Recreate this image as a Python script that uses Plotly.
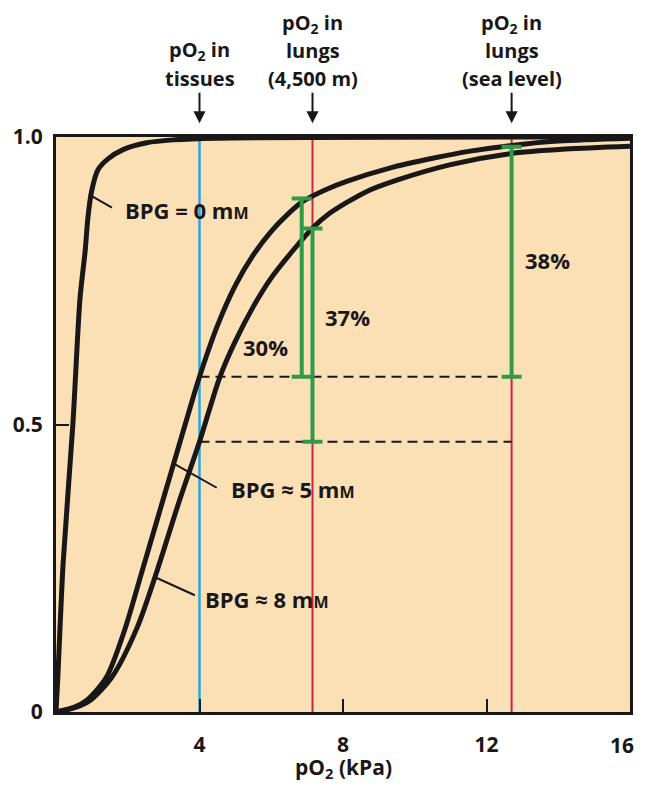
import plotly.graph_objects as go

# oxygen binding curves (pO2 in kPa, fractional saturation)
bpg0_x = [0, 0.05, 0.2, 0.47, 0.67, 0.81, 0.89, 0.99, 1.17, 1.45, 1.87, 2.53, 3.26, 4.5, 16]
bpg0_y = [0, 0.06, 0.26, 0.50, 0.72, 0.80, 0.86, 0.905, 0.943, 0.962, 0.978, 0.99, 0.995, 0.998, 1.0]

bpg5_x = [0, 0.5, 0.85, 1.4, 1.9, 2.4, 2.8, 3.2, 3.6, 4.0, 4.5, 5.0, 5.5, 6.0, 6.5, 6.88,
          7.5, 8.1, 9.3, 10.5, 11.5, 12.65, 14, 16]
bpg5_y = [0, 0.008, 0.02, 0.06, 0.14, 0.245, 0.33, 0.415, 0.5, 0.583, 0.672, 0.742, 0.795,
          0.836, 0.868, 0.888, 0.908, 0.923, 0.946, 0.963, 0.975, 0.985, 0.993, 0.998]

bpg8_x = [0, 0.5, 0.95, 1.55, 2.25, 2.84, 3.4, 4.0, 4.57, 5.0, 5.5, 6.0, 6.57, 7.14, 7.6,
          8.65, 9.5, 11.0, 12.65, 14.2, 16]
bpg8_y = [0, 0.007, 0.02, 0.06, 0.145, 0.25, 0.36, 0.47, 0.583, 0.645, 0.705, 0.755, 0.80,
          0.841, 0.866, 0.905, 0.925, 0.952, 0.971, 0.979, 0.984]

# reference pO2 values
tissue_po2 = 4.0
lung_po2 = [7.15, 12.7]

# dashed saturation levels in tissue, for 5 mM and 8 mM BPG
tissue_sat = [0.583, 0.47]

# green delivery bars
bar_x = [6.85, 7.15, 12.7]
bar_lo = [0.583, 0.47, 0.583]
bar_hi = [0.893, 0.841, 0.983]
bar_text = ["30%", "37%", "38%"]
bar_text_x = [5.85, 8.13, 13.7]
bar_text_y = [0.635, 0.687, 0.786]

x_ticks = [4, 8, 12, 16]
x_tick_text = ["4", "8", "12", ""]  # "16" is placed by hand so it is not clipped
y_ticks = [0, 0.5, 1]
y_tick_text = ["0", "0.5", "1.0"]

BLACK = "#1a1718"
RED = "#cc2647"
BLUE = "#2aa6de"
GREEN = "#2f9a47"
FONT = "Open Sans"
SMALL_M = "m<span style='font-size:16px'>M</span>"

fig = go.Figure()

# vertical reference lines
fig.add_trace(go.Scatter(x=[tissue_po2, tissue_po2], y=[0, 1], mode="lines",
                         line=dict(color=BLUE, width=2.5), hoverinfo="skip"))
for xv in lung_po2:
    fig.add_trace(go.Scatter(x=[xv, xv], y=[0, 1], mode="lines",
                             line=dict(color=RED, width=2), hoverinfo="skip"))

# dashed saturation levels
for yv in tissue_sat:
    fig.add_trace(go.Scatter(x=[tissue_po2, lung_po2[1]], y=[yv, yv], mode="lines",
                             line=dict(color=BLACK, width=2, dash="10px,6px"),
                             hoverinfo="skip"))

# binding curves
for xs, ys in [(bpg0_x, bpg0_y), (bpg5_x, bpg5_y), (bpg8_x, bpg8_y)]:
    fig.add_trace(go.Scatter(x=xs, y=ys, mode="lines",
                             line=dict(color=BLACK, width=5, shape="spline", smoothing=0.8),
                             hoverinfo="skip"))

# green bars, drawn as one-sided error bars
fig.add_trace(go.Scatter(
    x=bar_x, y=bar_lo, mode="markers", marker=dict(size=1, opacity=0),
    error_y=dict(type="data", symmetric=False,
                 array=[h - l for h, l in zip(bar_hi, bar_lo)],
                 arrayminus=[0] * len(bar_lo),
                 color=GREEN, thickness=4, width=10),
    hoverinfo="skip"))

# leader lines for curve labels
leaders = [
    ((0.95, 0.899), (1.56, 0.877)),
    ((3.26, 0.433), (4.48, 0.39)),
    ((2.81, 0.233), (3.87, 0.203)),
]
for (x0, y0), (x1, y1) in leaders:
    fig.add_shape(type="line", x0=x0, y0=y0, x1=x1, y1=y1, xref="x", yref="y",
                  line=dict(color=BLACK, width=2))

curve_labels = [
    ("BPG = 0 " + SMALL_M, 1.87, 0.873),
    ("BPG ≈ 5 " + SMALL_M, 4.82, 0.388),
    ("BPG ≈ 8 " + SMALL_M, 4.09, 0.197),
]
for text, xv, yv in curve_labels:
    fig.add_annotation(text=text, x=xv, y=yv, xref="x", yref="y", showarrow=False,
                       xanchor="left", yanchor="middle",
                       font=dict(family=FONT, size=22, color=BLACK, weight="bold"))

for text, xv, yv in zip(bar_text, bar_text_x, bar_text_y):
    fig.add_annotation(text=text, x=xv, y=yv, xref="x", yref="y", showarrow=False,
                       font=dict(family=FONT, size=22, color=BLACK, weight="bold"))

# labels and arrows above the plot
top_labels = [
    (tissue_po2, ["pO<sub>2</sub> in", "tissues"]),
    (lung_po2[0], ["pO<sub>2</sub> in", "lungs", "(4,500 m)"]),
    (lung_po2[1], ["pO<sub>2</sub> in", "lungs", "(sea level)"]),
]
line_y = [1.1025, 1.1505, 1.1980]  # bottom line first
for xv, lines in top_labels:
    for i, line in enumerate(reversed(lines)):
        fig.add_annotation(text=line, x=xv, y=line_y[i], xref="x", yref="paper",
                           showarrow=False, yanchor="middle",
                           font=dict(family=FONT, size=20, color=BLACK, weight="bold"))
    fig.add_annotation(text="", x=xv, y=1.024, xref="x", yref="paper",
                       showarrow=True, ax=0, ay=-32, arrowhead=2, arrowsize=1.2,
                       arrowwidth=2, arrowcolor=BLACK)

# last x tick label, kept inside the page
fig.add_annotation(text="16", x=1, y=0, xref="paper", yref="paper", showarrow=False,
                   xanchor="right", yanchor="top", xshift=6, yshift=-17,
                   font=dict(family=FONT, size=21, color=BLACK, weight="bold"))

# x axis title, placed by hand a little lower than plotly would put it
fig.add_annotation(text="pO<sub>2</sub> (kPa)", x=8, y=-0.097, xref="x", yref="paper",
                   showarrow=False, yanchor="middle",
                   font=dict(family=FONT, size=21, color=BLACK, weight="bold"))

fig.update_xaxes(range=[0, 16], tickvals=x_ticks, ticktext=x_tick_text, ticks="inside",
                 ticklen=13, tickwidth=2, tickcolor=BLACK, showline=True, mirror=True,
                 linecolor=BLACK, linewidth=3, showgrid=False, zeroline=False,
                 ticklabelstandoff=12, automargin=False,
                 tickfont=dict(family=FONT, size=21, color=BLACK, weight="bold"))
fig.update_yaxes(range=[0, 1], tickvals=y_ticks, ticktext=y_tick_text, ticks="inside",
                 ticklen=13, tickwidth=2, tickcolor=BLACK, showline=True, mirror=True,
                 linecolor=BLACK, linewidth=3, showgrid=False, zeroline=False,
                 ticklabelstandoff=6, automargin=False,
                 tickfont=dict(family=FONT, size=21, color=BLACK, weight="bold"))

# the page body adds an 8 px margin, so the figure is a bit smaller than the window
fig.update_layout(
    width=637, height=777,
    margin=dict(l=48, r=15, t=129, b=73),
    plot_bgcolor="#fbdfb5", paper_bgcolor="white",
    showlegend=False,
)

fig.write_html("out.html")
